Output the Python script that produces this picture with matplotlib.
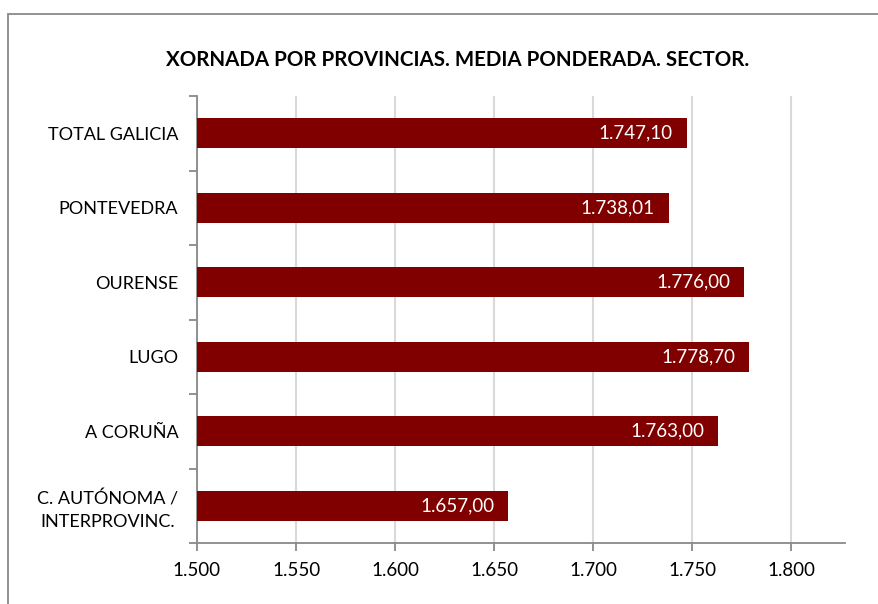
import matplotlib
matplotlib.use("Agg")
import matplotlib.pyplot as plt
from matplotlib.patches import Rectangle
from matplotlib.ticker import FixedLocator, FuncFormatter

plt.rcParams['font.family'] = ['Lato', 'DejaVu Sans']

categories = ["C. AUTÓNOMA /\nINTERPROVINC.", "A CORUÑA", "LUGO", "OURENSE",
              "PONTEVEDRA", "TOTAL GALICIA"]
values = [1657.00, 1763.00, 1778.70, 1776.00, 1738.01, 1747.10]
x_ticks = [1500, 1550, 1600, 1650, 1700, 1750, 1800]
title = "XORNADA POR PROVINCIAS. MEDIA PONDERADA. SECTOR."

bar_color = "#800000"
axis_color = "#898989"
grid_color = "#d9d9d9"


def es_num(v, dec):
    s = f"{v:,.{dec}f}"
    return s.replace(",", "X").replace(".", ",").replace("X", ".")


fig = plt.figure(figsize=(8.79, 6.04), dpi=100)
fig.patch.set_facecolor("white")

# chart frame (runs off the right and bottom edges)
fig.add_artist(Rectangle((8 / 879, -0.05), 1.0, 1 - 14 / 604 + 0.05,
                         transform=fig.transFigure, fill=False,
                         edgecolor=axis_color, linewidth=1.3))

ax = fig.add_axes([197 / 879, 1 - 543 / 604, (845 - 197) / 879, (543 - 96) / 604])

y = list(range(len(categories)))
ax.barh(y, values, height=0.4, color=bar_color, zorder=3)

for yi, v in zip(y, values):
    ax.annotate(es_num(v, 2), xy=(v, yi), xytext=(-10, 0),
                textcoords="offset points", ha="right", va="center",
                color="white", fontsize=13.5, zorder=4)

ax.set_xlim(1500, 1827)
ax.set_ylim(-0.5, len(categories) - 0.5)

ax.xaxis.set_major_locator(FixedLocator(x_ticks))
ax.xaxis.set_major_formatter(FuncFormatter(lambda v, p: es_num(v, 0)))
ax.grid(axis="x", color=grid_color, linewidth=1.5, zorder=0)

ax.set_yticks(y)
ax.set_yticklabels(categories, multialignment="center", linespacing=1.45)
ax.yaxis.set_minor_locator(FixedLocator([i - 0.5 for i in range(len(categories) + 1)]))
ax.tick_params(axis="y", which="major", length=0, pad=13.5, labelsize=13)
ax.tick_params(axis="y", which="minor", length=6, width=1.3, color=axis_color)
ax.tick_params(axis="x", which="major", length=6, width=1.3, color=axis_color,
               pad=8, labelsize=13.5)

for side in ("top", "right"):
    ax.spines[side].set_visible(False)
for side in ("left", "bottom"):
    ax.spines[side].set_color(axis_color)
    ax.spines[side].set_linewidth(1.3)

fig.text(458 / 879, 1 - 60 / 604, title, ha="center", va="center",
         fontsize=14.8, fontweight="bold")

fig.savefig("out.png", dpi=100)
